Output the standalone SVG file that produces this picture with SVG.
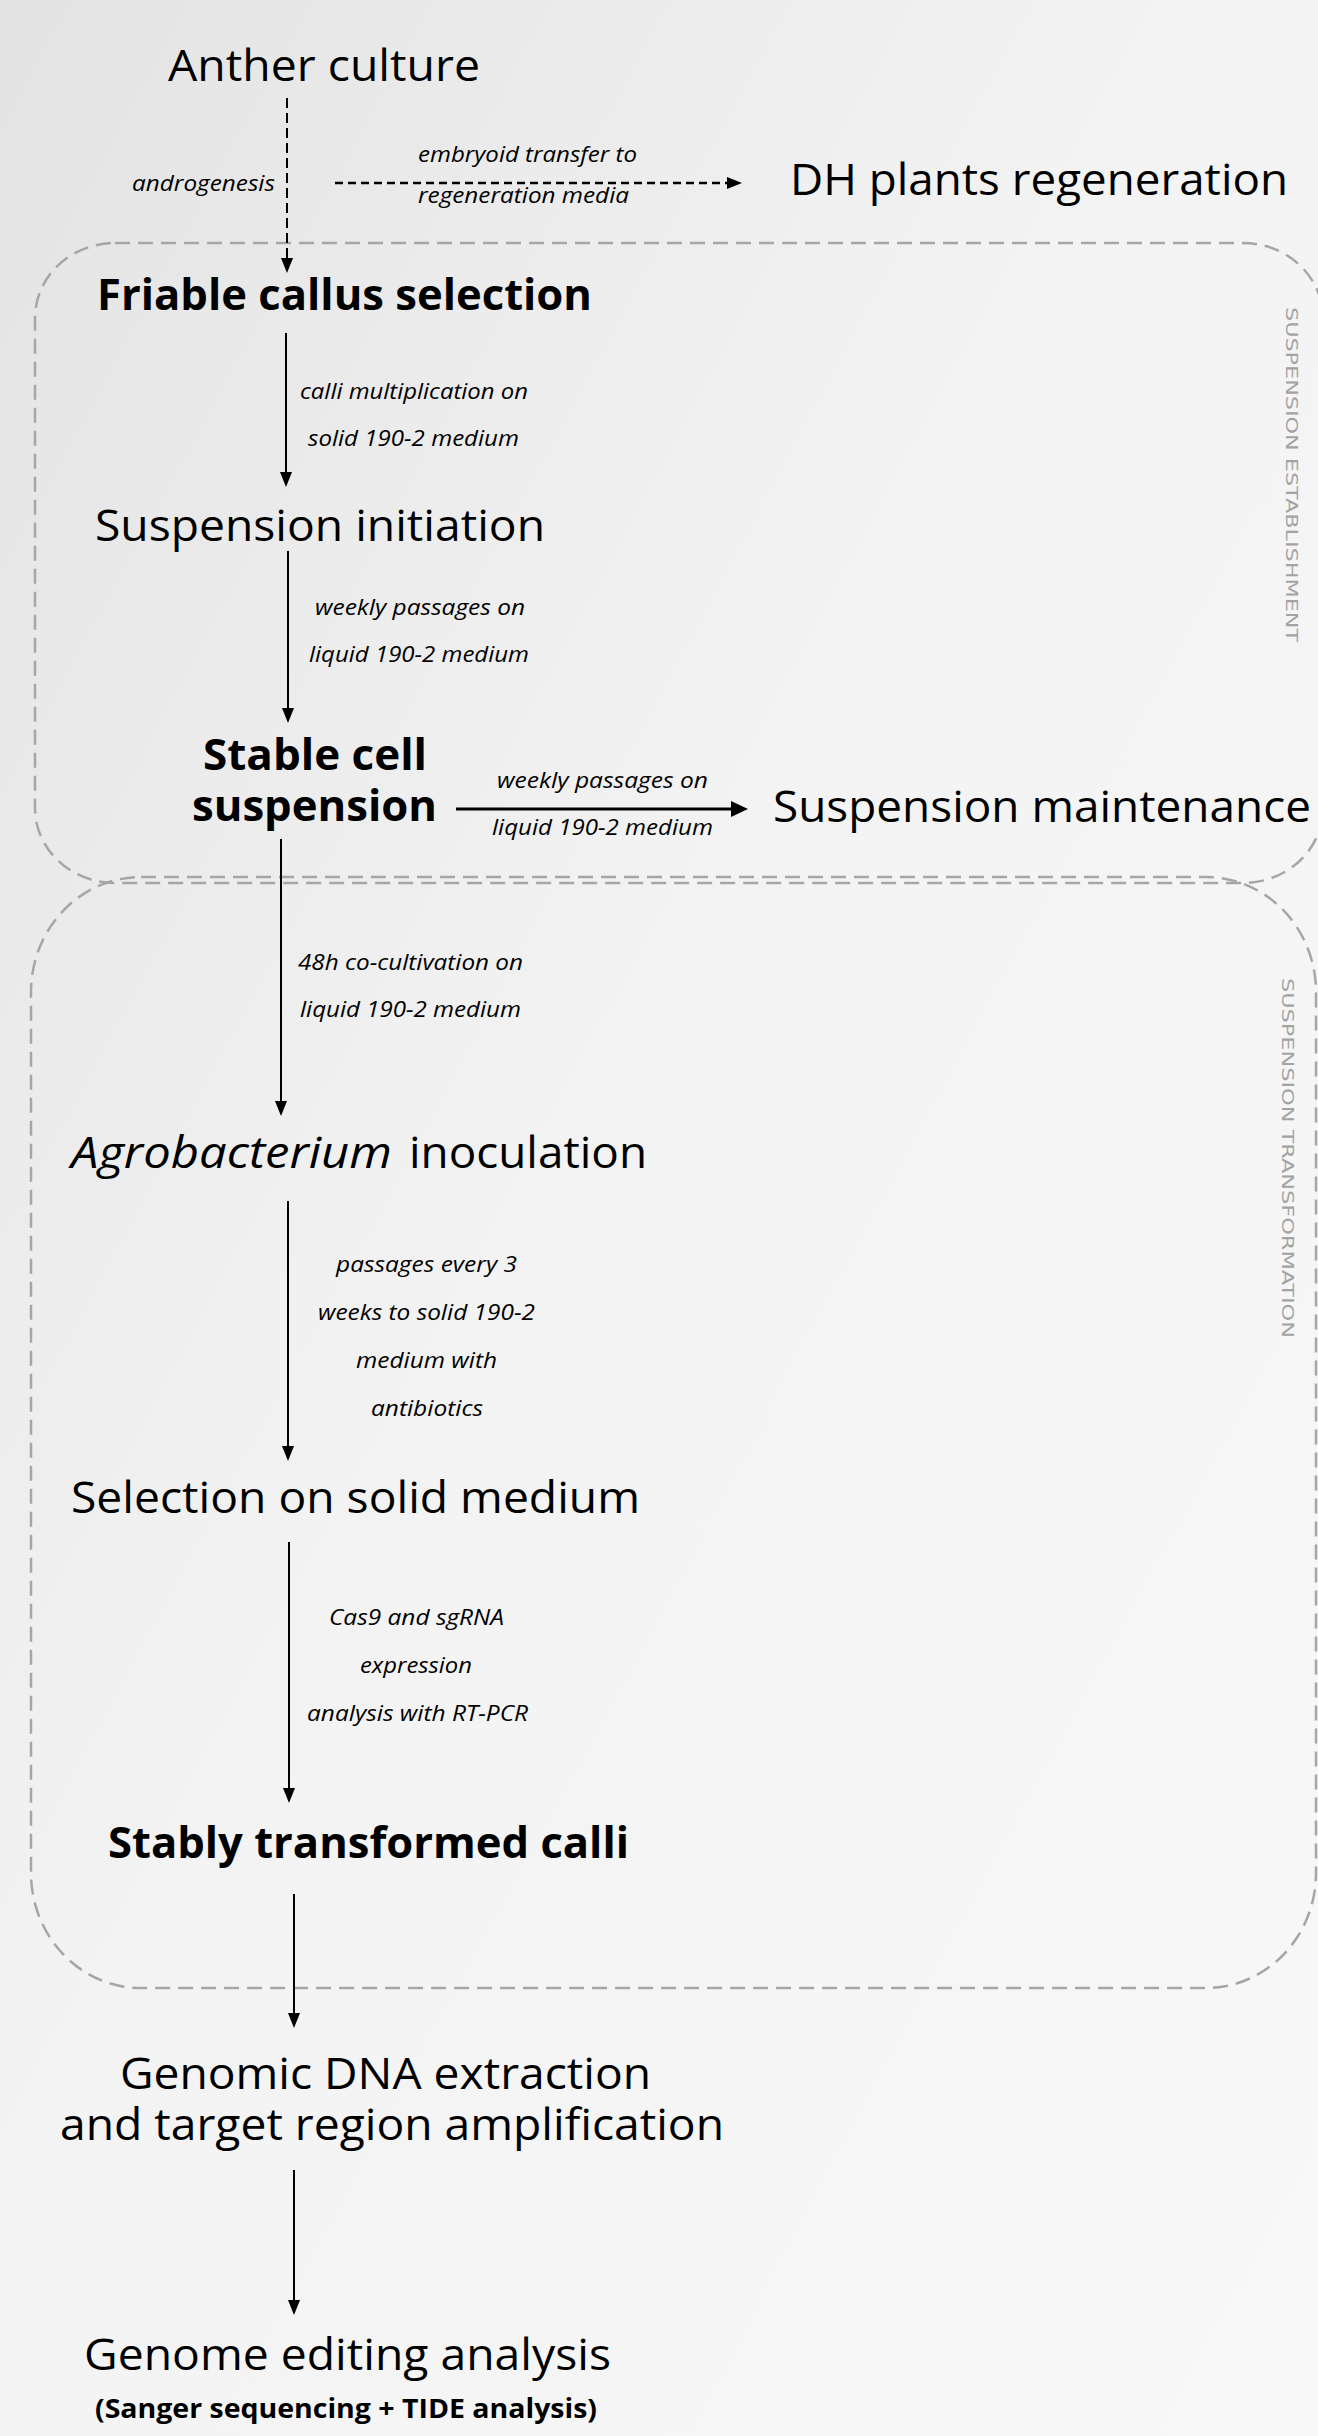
<svg xmlns="http://www.w3.org/2000/svg" width="1318" height="2436" viewBox="0 0 1318 2436">
<defs>
<linearGradient id="bg" x1="0" y1="0" x2="1" y2="1">
<stop offset="0" stop-color="#e3e3e3"/>
<stop offset="0.45" stop-color="#f3f3f3"/>
<stop offset="1" stop-color="#f8f8f8"/>
</linearGradient>
<marker id="ah" markerUnits="userSpaceOnUse" markerWidth="16" markerHeight="14" refX="0" refY="7" orient="auto">
<path d="M0,1 L15,7 L0,13 Z" fill="#000"/>
</marker>
<marker id="ahb" markerUnits="userSpaceOnUse" markerWidth="18" markerHeight="18" refX="0" refY="9" orient="auto">
<path d="M0,1 L17,9 L0,17 Z" fill="#000"/>
</marker>
<style>
.t{font-family:"Open Sans","Liberation Sans",sans-serif;font-size:43px;fill:#000}
.b{font-weight:bold}
.s{font-family:"Open Sans","Liberation Sans",sans-serif;font-size:21px;font-style:italic;fill:#000}
.g{font-family:"DejaVu Sans","Liberation Sans",sans-serif;font-size:16px;fill:#a3a3a3}
.box{fill:none;stroke:#a6a6a6;stroke-width:2.5;stroke-dasharray:15 8}
.ln{stroke:#000;stroke-width:2;fill:none}
.dv{stroke:#000;stroke-width:2;fill:none;stroke-dasharray:10 5}
.dh{stroke:#000;stroke-width:2.5;fill:none;stroke-dasharray:8 5}
</style>
</defs>
<rect width="1318" height="2436" fill="url(#bg)"/>

<g id="group-establishment">
<rect class="box" x="35" y="243" width="1288" height="640" rx="80" ry="75"/>
<text class="g" transform="translate(1286,307) rotate(90)" textLength="335" lengthAdjust="spacingAndGlyphs">SUSPENSION ESTABLISHMENT</text>
</g>
<g id="group-transformation">
<rect class="box" x="31" y="877" width="1285" height="1111" rx="110" ry="115"/>
<text class="g" transform="translate(1282,978) rotate(90)" textLength="360" lengthAdjust="spacingAndGlyphs">SUSPENSION TRANSFORMATION</text>
</g>

<g id="connectors">
<line class="dv" x1="287" y1="98" x2="287" y2="258" marker-end="url(#ah)"/>
<line class="dh" x1="335" y1="183" x2="727" y2="183" marker-end="url(#ah)"/>
<line class="ln" x1="286" y1="333" x2="286" y2="472" marker-end="url(#ah)"/>
<line class="ln" x1="288" y1="551" x2="288" y2="708" marker-end="url(#ah)"/>
<line class="ln" x1="281" y1="839" x2="281" y2="1101" marker-end="url(#ah)"/>
<line class="ln" x1="288" y1="1201" x2="288" y2="1446" marker-end="url(#ah)"/>
<line class="ln" x1="289" y1="1542" x2="289" y2="1788" marker-end="url(#ah)"/>
<line class="ln" x1="294" y1="1894" x2="294" y2="2013" marker-end="url(#ah)"/>
<line class="ln" x1="294" y1="2170" x2="294" y2="2300" marker-end="url(#ah)"/>
<line class="ln" style="stroke-width:3" x1="456" y1="809" x2="731" y2="809" marker-end="url(#ahb)"/>
<text class="s" x="132" y="191" textLength="143" lengthAdjust="spacingAndGlyphs">androgenesis</text>
<text class="s" x="418" y="162" textLength="219" lengthAdjust="spacingAndGlyphs">embryoid transfer to</text>
<text class="s" x="418" y="203" textLength="211" lengthAdjust="spacingAndGlyphs">regeneration media</text>
<text class="s" x="300" y="399" textLength="228" lengthAdjust="spacingAndGlyphs">calli multiplication on</text>
<text class="s" x="308" y="446" textLength="211" lengthAdjust="spacingAndGlyphs">solid 190-2 medium</text>
<text class="s" x="315" y="615" textLength="210" lengthAdjust="spacingAndGlyphs">weekly passages on</text>
<text class="s" x="309" y="662" textLength="220" lengthAdjust="spacingAndGlyphs">liquid 190-2 medium</text>
<text class="s" x="497" y="788" textLength="211" lengthAdjust="spacingAndGlyphs">weekly passages on</text>
<text class="s" x="492" y="835" textLength="221" lengthAdjust="spacingAndGlyphs">liquid 190-2 medium</text>
<text class="s" x="298" y="970" textLength="225" lengthAdjust="spacingAndGlyphs">48h co-cultivation on</text>
<text class="s" x="300" y="1017" textLength="221" lengthAdjust="spacingAndGlyphs">liquid 190-2 medium</text>
<text class="s" x="336" y="1272" textLength="181" lengthAdjust="spacingAndGlyphs">passages every 3</text>
<text class="s" x="318" y="1320" textLength="217" lengthAdjust="spacingAndGlyphs">weeks to solid 190-2</text>
<text class="s" x="356" y="1368" textLength="141" lengthAdjust="spacingAndGlyphs">medium with</text>
<text class="s" x="371" y="1416" textLength="112" lengthAdjust="spacingAndGlyphs">antibiotics</text>
<text class="s" x="329" y="1625" textLength="175" lengthAdjust="spacingAndGlyphs">Cas9 and sgRNA</text>
<text class="s" x="360" y="1673" textLength="112" lengthAdjust="spacingAndGlyphs">expression</text>
<text class="s" x="307" y="1721" textLength="221" lengthAdjust="spacingAndGlyphs">analysis with RT-PCR</text>
</g>

<g id="anther-culture"><text class="t" x="168" y="81" textLength="312" lengthAdjust="spacingAndGlyphs">Anther culture</text></g>
<g id="dh-plants"><text class="t" x="790" y="195" textLength="498" lengthAdjust="spacingAndGlyphs">DH plants regeneration</text></g>
<g id="friable-callus"><text class="t b" x="97" y="310" textLength="495" lengthAdjust="spacingAndGlyphs">Friable callus selection</text></g>
<g id="suspension-initiation"><text class="t" x="95" y="541" textLength="450" lengthAdjust="spacingAndGlyphs">Suspension initiation</text></g>
<g id="stable-suspension">
<text class="t b" x="203" y="770" textLength="224" lengthAdjust="spacingAndGlyphs">Stable cell</text>
<text class="t b" x="192" y="821" textLength="245" lengthAdjust="spacingAndGlyphs">suspension</text>
</g>
<g id="suspension-maintenance"><text class="t" x="773" y="822" textLength="538" lengthAdjust="spacingAndGlyphs">Suspension maintenance</text></g>
<g id="agro-inoculation">
<text class="t" style="font-style:italic" x="71" y="1168" textLength="321" lengthAdjust="spacingAndGlyphs">Agrobacterium</text>
<text class="t" x="409" y="1168" textLength="238" lengthAdjust="spacingAndGlyphs">inoculation</text>
</g>
<g id="selection-solid"><text class="t" x="71" y="1513" textLength="569" lengthAdjust="spacingAndGlyphs">Selection on solid medium</text></g>
<g id="stably-transformed"><text class="t b" x="108" y="1858" textLength="521" lengthAdjust="spacingAndGlyphs">Stably transformed calli</text></g>
<g id="genomic-dna">
<text class="t" x="120" y="2089" textLength="531" lengthAdjust="spacingAndGlyphs">Genomic DNA extraction</text>
<text class="t" x="60" y="2140" textLength="664" lengthAdjust="spacingAndGlyphs">and target region amplification</text>
</g>
<g id="genome-editing">
<text class="t" x="84" y="2370" textLength="527" lengthAdjust="spacingAndGlyphs">Genome editing analysis</text>
<text class="t b" style="font-size:26px" x="95" y="2418" textLength="502" lengthAdjust="spacingAndGlyphs">(Sanger sequencing + TIDE analysis)</text>
</g>
</svg>
